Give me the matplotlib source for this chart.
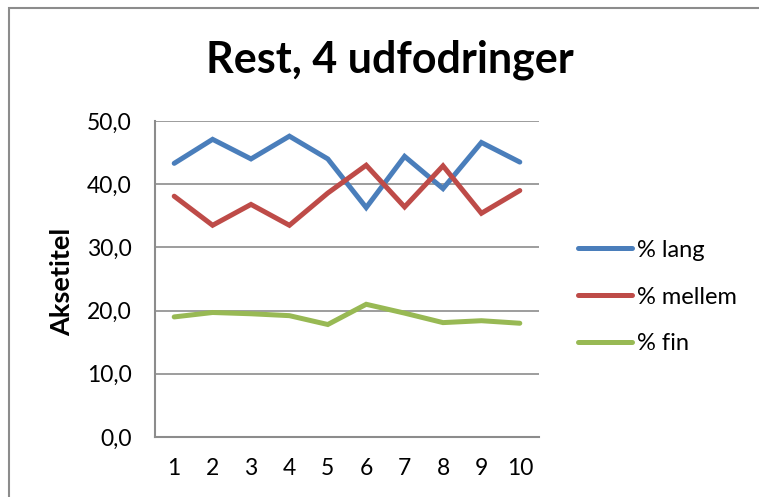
import matplotlib
matplotlib.use("Agg")
import matplotlib.pyplot as plt
from matplotlib.lines import Line2D
from matplotlib.patches import Rectangle

categories = [1, 2, 3, 4, 5, 6, 7, 8, 9, 10]
lang = [43.3, 47.1, 44.0, 47.6, 44.0, 36.3, 44.4, 39.3, 46.6, 43.5]
mellem = [38.1, 33.5, 36.8, 33.5, 38.6, 43.0, 36.4, 42.9, 35.4, 39.0]
fin = [19.0, 19.7, 19.5, 19.2, 17.8, 21.0, 19.6, 18.1, 18.4, 18.0]
yticks = [0, 10, 20, 30, 40, 50]
series_names = ["% lang", "% mellem", "% fin"]
colors = ["#4A7EBB", "#BE4B48", "#98B954"]

plt.rcParams['font.family'] = ['Lato', 'DejaVu Sans']

fig = plt.figure(figsize=(7.59, 4.97), dpi=100)
ax = fig.add_axes([155/759, 1-437/497, (539-155)/759, (437-121)/497])

for vals, c, n in zip([lang, mellem, fin], colors, series_names):
    ax.plot(categories, vals, color=c, lw=3.6, solid_capstyle='round',
            solid_joinstyle='miter', label=n, zorder=3)

ax.set_xlim(0.5, 10.5)
ax.set_ylim(0, 50)
ax.set_yticks(yticks)
ax.set_yticklabels([f"{v:.1f}".replace('.', ',') for v in yticks], fontsize=16.5)
ax.set_xticks(categories)
ax.set_xticklabels([str(c) for c in categories], fontsize=16.5)
ax.tick_params(length=0)
ax.tick_params(axis='y', pad=17)
ax.tick_params(axis='x', pad=15)
ax.grid(axis='y', color='#8C8C8C', lw=1.2, zorder=1)
for s in ['top', 'right']:
    ax.spines[s].set_visible(False)
for s in ['left', 'bottom']:
    ax.spines[s].set_color('#8C8C8C')
    ax.spines[s].set_linewidth(1.5)

fig.text(62/759, 1-282/497, "Aksetitel", fontsize=19.5, fontweight='bold',
         rotation=90, ha='center', va='center')

fig.text(390/759, 1-73/497, "Rest, 4 udfodringer", fontsize=31,
         fontweight='bold', ha='center', va='baseline')

handles = [Line2D([0], [0], color=c, lw=3.6, solid_capstyle='round') for c in colors]
leg = fig.legend(handles, series_names, loc='center left',
                 bbox_to_anchor=(578/759, 1-297/497), frameon=False,
                 fontsize=17, handlelength=2.3, handletextpad=0.2,
                 labelspacing=1.1, borderpad=0, borderaxespad=0)

# outer chart frame
fig.patches.append(Rectangle((9/759, -0.1), 1.2, 1-8/497+0.1, transform=fig.transFigure,
                             fill=False, edgecolor='#8C8C8C', lw=1.5))

fig.savefig("out.png", dpi=100)
